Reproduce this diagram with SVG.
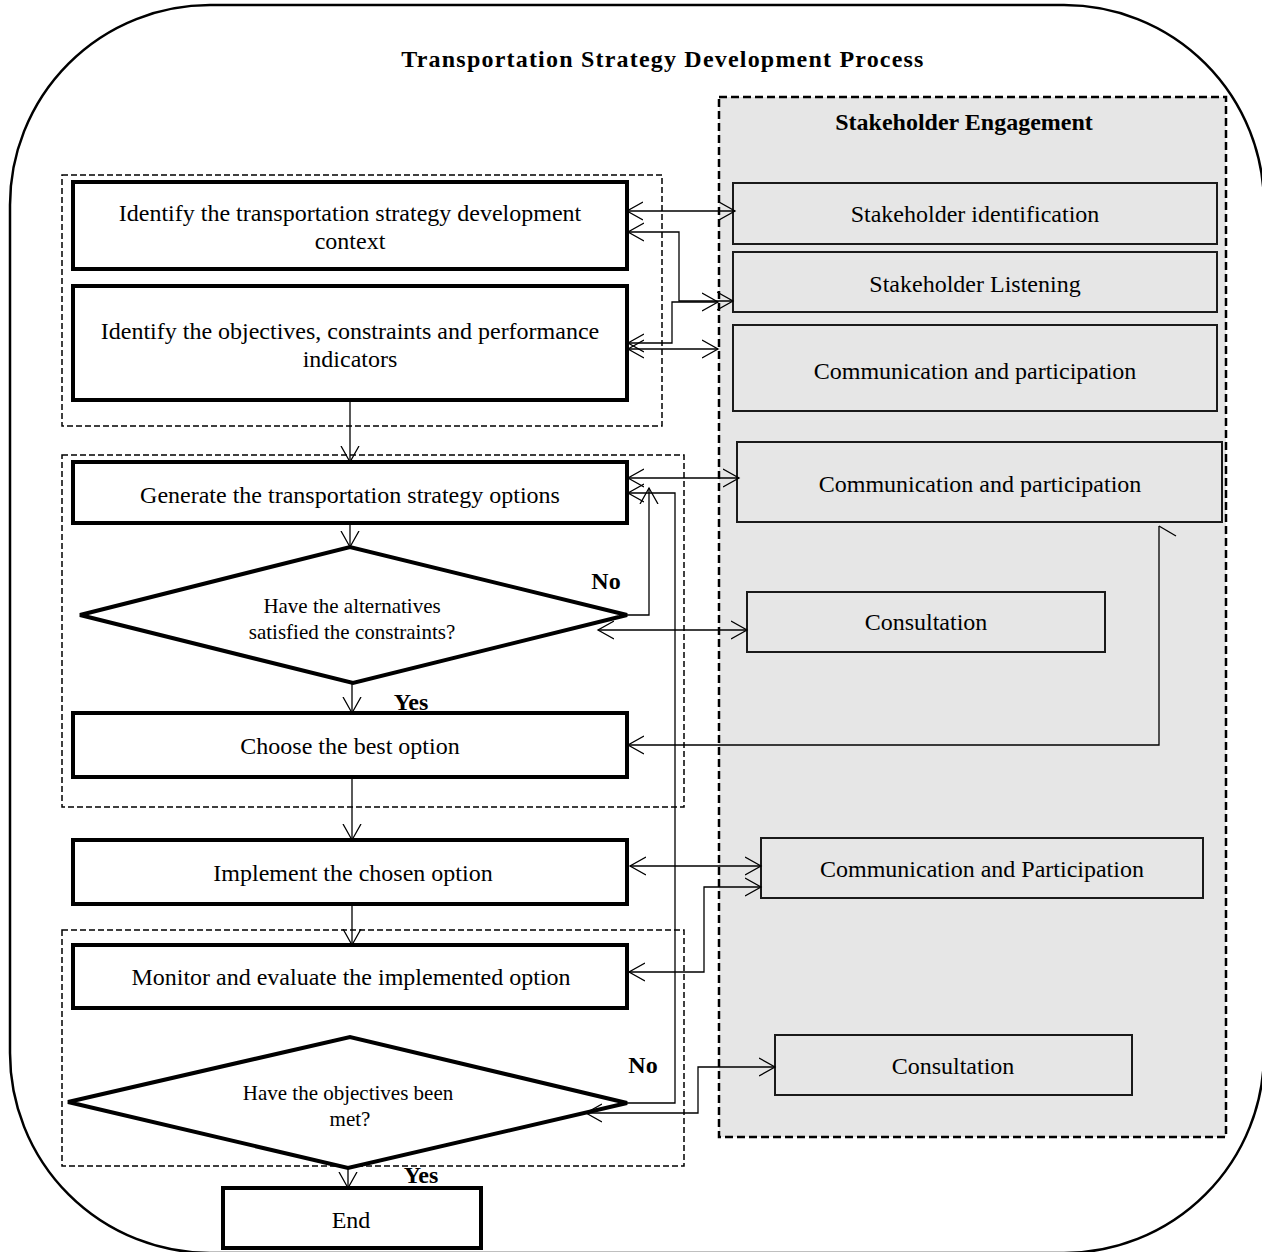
<svg xmlns="http://www.w3.org/2000/svg" width="1262" height="1252" viewBox="0 0 1262 1252">
<style>
text{font-family:"Liberation Serif","Times New Roman",serif;fill:#000;text-anchor:middle}
.t{font-size:24px}
.s{font-size:21px}
.b{font-weight:bold;font-size:24px}
.lb{fill:#fff;stroke:#000;stroke-width:4}
.rb{fill:#e6e6e6;stroke:#1a1a1a;stroke-width:2}
.grp{fill:none;stroke:#000;stroke-width:1.5;stroke-dasharray:6 3}
.c{fill:none;stroke:#000;stroke-width:1.3}
.bi{marker-start:url(#a);marker-end:url(#a)}
.e{marker-end:url(#a)}
</style>
<defs>
<marker id="a" markerUnits="userSpaceOnUse" markerWidth="18" markerHeight="20" viewBox="0 0 18 20" refX="16" refY="10" orient="auto-start-reverse">
<path d="M0,1 L16,10 L0,19" fill="none" stroke="#000" stroke-width="1.3"/>
</marker>
</defs>
<rect x="10" y="5" width="1254" height="1248" rx="200" ry="200" fill="#fff" stroke="#000" stroke-width="2.5"/>
<text class="b" x="663" y="67" letter-spacing="1.2">Transportation Strategy Development Process</text>
<g id="panel">
<rect x="719" y="97" width="507" height="1040" fill="#e6e6e6" stroke="#000" stroke-width="2.5" stroke-dasharray="8 4"/>
<text class="b" x="964" y="130">Stakeholder Engagement</text>
</g>
<g id="groups">
<rect class="grp" x="62" y="175" width="600" height="251"/>
<rect class="grp" x="62" y="455" width="622" height="352"/>
<rect class="grp" x="62" y="930" width="622" height="236"/>
</g>
<g id="n1"><rect class="lb" x="73" y="182" width="554" height="87"/><text class="t" x="350" y="221">Identify the transportation strategy development</text><text class="t" x="350" y="249">context</text></g>
<g id="n2"><rect class="lb" x="73" y="286" width="554" height="114"/><text class="t" x="350" y="339">Identify the objectives, constraints and performance</text><text class="t" x="350" y="367">indicators</text></g>
<g id="n3"><rect class="lb" x="73" y="462" width="554" height="61"/><text class="t" x="350" y="503">Generate the transportation strategy options</text></g>
<g id="d1"><polygon class="lb" points="80,615 350,547 627,615 353,683"/><text class="s" x="352" y="613">Have the alternatives</text><text class="s" x="352" y="639">satisfied the constraints?</text></g>
<g id="n4"><rect class="lb" x="73" y="713" width="554" height="64"/><text class="t" x="350" y="754">Choose the best option</text></g>
<g id="n5"><rect class="lb" x="73" y="840" width="554" height="64"/><text class="t" x="353" y="881">Implement the chosen option</text></g>
<g id="n6"><rect class="lb" x="73" y="945" width="554" height="63"/><text class="t" x="351" y="985">Monitor and evaluate the implemented option</text></g>
<g id="d2"><polygon class="lb" points="68,1102 350,1037 627,1103 348,1168"/><text class="s" x="348" y="1100">Have the objectives been</text><text class="s" x="350" y="1126">met?</text></g>
<g id="n7"><rect class="lb" x="223" y="1188" width="258" height="60"/><text class="t" x="351" y="1228">End</text></g>
<g id="r1"><rect class="rb" x="733" y="183" width="484" height="61"/><text class="t" x="975" y="222">Stakeholder identification</text></g>
<g id="r2"><rect class="rb" x="733" y="252" width="484" height="60"/><text class="t" x="975" y="292">Stakeholder Listening</text></g>
<g id="r3"><rect class="rb" x="733" y="325" width="484" height="86"/><text class="t" x="975" y="379">Communication and participation</text></g>
<g id="r4"><rect class="rb" x="737" y="442" width="485" height="80"/><text class="t" x="980" y="492">Communication and participation</text></g>
<g id="r5"><rect class="rb" x="747" y="592" width="358" height="60"/><text class="t" x="926" y="630">Consultation</text></g>
<g id="r6"><rect class="rb" x="761" y="838" width="442" height="60"/><text class="t" x="982" y="877">Communication and Participation</text></g>
<g id="r7"><rect class="rb" x="775" y="1035" width="357" height="60"/><text class="t" x="953" y="1074">Consultation</text></g>
<g id="labels">
<text class="b" x="606" y="589">No</text>
<text class="b" x="411" y="710">Yes</text>
<text class="b" x="643" y="1073">No</text>
<text class="b" x="421" y="1183">Yes</text>
</g>
<g id="connectors">
<path class="c e" d="M350,400 V462"/>
<path class="c e" d="M350,523 V547"/>
<path class="c e" d="M352,683 V713"/>
<path class="c e" d="M352,777 V840"/>
<path class="c e" d="M352,904 V945"/>
<path class="c e" d="M348,1168 V1188"/>
<path class="c bi" d="M627,211 H735"/>
<path class="c bi" d="M628,232 H679 V301 H733"/>
<path class="c bi" d="M628,343 H672 V302 H718"/>
<path class="c bi" d="M628,349 H718"/>
<path class="c bi" d="M628,478 H739"/>
<path class="c e" d="M627,615 H649 V488"/>
<path class="c bi" d="M598,630 H747"/>
<path class="c e" d="M1159,526 V745 H628"/>
<path class="c" d="M1159,526 L1176,536"/>
<path class="c bi" d="M630,866 H761"/>
<path class="c bi" d="M629,972 H704 V887 H761"/>
<path class="c e" d="M627,1103 H675 V493 H628"/>
<path class="c bi" d="M586,1113 H698 V1067 H775"/>
</g>
</svg>
